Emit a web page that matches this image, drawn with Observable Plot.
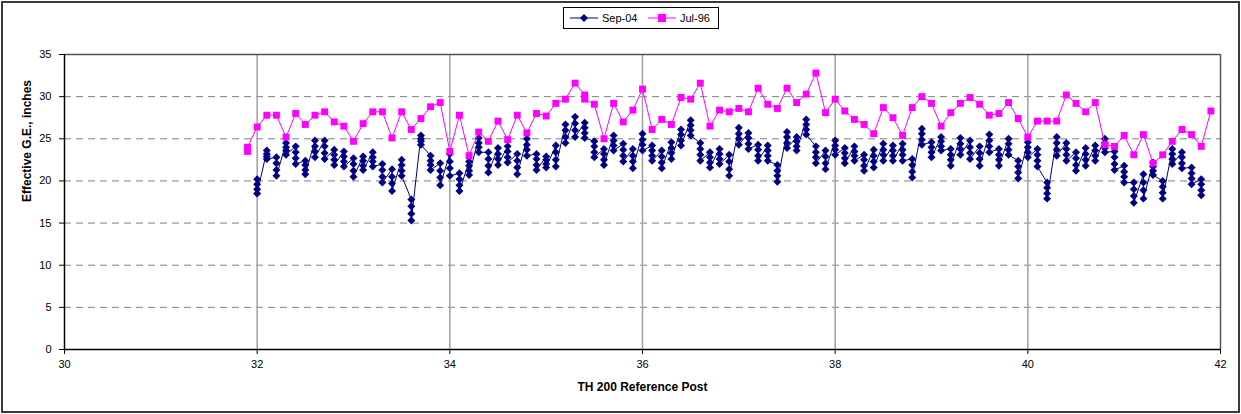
<!DOCTYPE html>
<html>
<head>
<meta charset="utf-8">
<script src="https://cdn.jsdelivr.net/npm/d3@7"></script>
<script src="https://cdn.jsdelivr.net/npm/@observablehq/plot@0.6"></script>
<style>
  body { margin: 0; background: #fff; }
  #wrap { position: relative; width: 1241px; height: 414px; font-family: "Liberation Sans", Arial, sans-serif; overflow: hidden; }
  #outer { position: absolute; left: 1px; top: 1px; width: 1235px; height: 408px; border: 2px solid #3a3a3a; pointer-events: none; z-index: 5; }
  #legend { position: absolute; left: 563px; top: 7px; width: 154px; height: 20px; border: 1px solid #000; background: #fff; font-size: 11px; z-index: 4; }
  #legend .item { position: absolute; top: 0; height: 20px; display: flex; align-items: center; }
  #chart { position: absolute; left: 0; top: 30px; }
</style>
</head>
<body>
<div id="wrap">
  <div id="outer"></div>
  <div id="legend"></div>
  <div id="chart"></div>
</div>
<script>
// ---- data ----
const seriesNames = ["Sep-04", "Jul-96"];
const seriesColors = ["#000080", "#FF00FF"];

const xTicks = [30, 32, 34, 36, 38, 40, 42];
const yTicks = [0, 5, 10, 15, 20, 25, 30, 35];

// Jul-96: one reading per 0.1 post (two at 31.9 and 35.4)
const julPost = [31.9, 31.9, 32.0, 32.1, 32.2, 32.3, 32.4, 32.5, 32.6, 32.7, 32.8, 32.9,
  33.0, 33.1, 33.2, 33.3, 33.4, 33.5, 33.6, 33.7, 33.8, 33.9,
  34.0, 34.1, 34.2, 34.3, 34.4, 34.5, 34.6, 34.7, 34.8, 34.9,
  35.0, 35.1, 35.2, 35.3, 35.4, 35.4, 35.5, 35.6, 35.7, 35.8, 35.9,
  36.0, 36.1, 36.2, 36.3, 36.4, 36.5, 36.6, 36.7, 36.8, 36.9,
  37.0, 37.1, 37.2, 37.3, 37.4, 37.5, 37.6, 37.7, 37.8, 37.9,
  38.0, 38.1, 38.2, 38.3, 38.4, 38.5, 38.6, 38.7, 38.8, 38.9,
  39.0, 39.1, 39.2, 39.3, 39.4, 39.5, 39.6, 39.7, 39.8, 39.9,
  40.0, 40.1, 40.2, 40.3, 40.4, 40.5, 40.6, 40.7, 40.8, 40.9,
  41.0, 41.1, 41.2, 41.3, 41.4, 41.5, 41.6, 41.7, 41.8, 41.9];
const julGE = [23.5, 24.0, 26.4, 27.8, 27.8, 25.2, 28.0, 26.7, 27.8, 28.2, 27.0, 26.5,
  24.7, 26.8, 28.2, 28.2, 25.1, 28.2, 26.1, 27.4, 28.8, 29.3,
  23.5, 27.8, 23.0, 25.8, 24.7, 27.1, 24.9, 27.8, 25.7, 28.0,
  27.7, 29.2, 29.7, 31.6, 30.2, 29.7, 29.1, 25.0, 29.2, 27.0, 28.4,
  30.9, 26.1, 27.3, 26.7, 29.9, 29.7, 31.6, 26.5, 28.4, 28.2,
  28.6, 28.2, 31.0, 29.1, 28.6, 31.0, 29.3, 30.3, 32.8, 28.1,
  29.7, 28.3, 27.3, 26.7, 25.6, 28.7, 27.5, 25.4, 28.7, 30.0,
  29.2, 26.5, 28.1, 29.2, 29.9, 29.1, 27.8, 28.0, 29.3, 27.4,
  25.2, 27.1, 27.1, 27.1, 30.2, 29.2, 28.2, 29.3, 24.3, 24.1,
  25.4, 23.1, 25.5, 22.1, 23.1, 24.7, 26.1, 25.5, 24.1, 28.3];

// Sep-04: several readings stacked at each 0.1 post
const sepPost = [32.0, 32.1, 32.2, 32.3, 32.4, 32.5, 32.6, 32.7, 32.8, 32.9,
  33.0, 33.1, 33.2, 33.3, 33.4, 33.5, 33.6, 33.7, 33.8, 33.9,
  34.0, 34.1, 34.2, 34.3, 34.4, 34.5, 34.6, 34.7, 34.8, 34.9,
  35.0, 35.1, 35.2, 35.3, 35.4, 35.5, 35.6, 35.7, 35.8, 35.9,
  36.0, 36.1, 36.2, 36.3, 36.4, 36.5, 36.6, 36.7, 36.8, 36.9,
  37.0, 37.1, 37.2, 37.3, 37.4, 37.5, 37.6, 37.7, 37.8, 37.9,
  38.0, 38.1, 38.2, 38.3, 38.4, 38.5, 38.6, 38.7, 38.8, 38.9,
  39.0, 39.1, 39.2, 39.3, 39.4, 39.5, 39.6, 39.7, 39.8, 39.9,
  40.0, 40.1, 40.2, 40.3, 40.4, 40.5, 40.6, 40.7, 40.8, 40.9,
  41.0, 41.1, 41.2, 41.3, 41.4, 41.5, 41.6, 41.7, 41.8];
const sepGE = [
  [20.2, 19.6, 19.0, 18.5], [23.6, 23.2, 22.9, 22.6], [22.8, 22.1, 21.3, 20.6], [24.5, 24.0, 23.6, 23.1],
  [24.1, 23.4, 22.7, 22.0], [22.4, 21.9, 21.3, 20.8], [24.8, 24.1, 23.5, 22.8], [24.8, 24.1, 23.3, 22.6],
  [23.7, 23.1, 22.5, 21.9], [23.5, 22.9, 22.3, 21.7], [22.7, 22.0, 21.2, 20.5], [22.9, 22.4, 21.8, 21.3],
  [23.4, 22.8, 22.3, 21.7], [22.0, 21.3, 20.5, 19.8], [21.4, 20.5, 19.7, 18.8], [22.5, 21.9, 21.2, 20.6],
  [17.8, 17.0, 16.1, 15.3], [25.4, 25.0, 24.7, 24.3], [23.0, 22.4, 21.9, 21.3], [22.1, 21.2, 20.4, 19.5],
  [23.2, 22.3, 21.5, 20.6], [20.9, 20.2, 19.5, 18.8], [22.3, 21.8, 21.2, 20.7], [25.1, 24.5, 24.0, 23.4],
  [23.4, 22.6, 21.8, 21.0], [23.9, 23.2, 22.6, 21.9], [24.1, 23.5, 22.8, 22.2], [23.2, 22.4, 21.6, 20.8],
  [25.0, 24.3, 23.7, 23.0], [23.2, 22.6, 21.9, 21.3], [22.9, 22.5, 22.0, 21.6], [24.2, 23.4, 22.5, 21.7],
  [26.7, 26.0, 25.2, 24.5], [27.6, 26.8, 26.0, 25.2], [26.9, 26.3, 25.7, 25.1], [24.7, 24.1, 23.4, 22.8],
  [23.8, 23.2, 22.5, 21.9], [25.4, 24.8, 24.2, 23.6], [24.4, 23.7, 23.0, 22.3], [23.8, 23.0, 22.3, 21.5],
  [25.6, 24.9, 24.3, 23.6], [24.2, 23.6, 23.0, 22.4], [23.6, 22.9, 22.2, 21.5], [24.6, 23.9, 23.3, 22.6],
  [26.1, 25.5, 24.8, 24.2], [27.2, 26.6, 26.0, 25.4], [24.5, 23.8, 23.1, 22.4], [23.4, 22.8, 22.2, 21.6],
  [23.8, 23.2, 22.6, 22.0], [23.1, 22.3, 21.4, 20.6], [26.3, 25.6, 25.0, 24.3], [25.7, 25.1, 24.4, 23.8],
  [24.3, 23.7, 23.0, 22.4], [24.2, 23.6, 23.0, 22.4], [21.9, 21.2, 20.6, 19.9], [25.8, 25.2, 24.5, 23.9],
  [25.2, 24.7, 24.1, 23.6], [27.3, 26.7, 26.1, 25.5], [24.1, 23.4, 22.8, 22.1], [23.6, 22.9, 22.1, 21.4],
  [24.8, 24.2, 23.7, 23.1], [23.9, 23.3, 22.7, 22.1], [24.1, 23.5, 23.0, 22.4], [23.1, 22.5, 21.8, 21.2],
  [23.7, 23.0, 22.3, 21.6], [24.4, 23.7, 23.1, 22.4], [24.2, 23.6, 23.0, 22.4], [24.4, 23.7, 23.1, 22.4],
  [22.6, 21.9, 21.1, 20.4], [26.2, 25.6, 24.9, 24.3], [24.6, 24.0, 23.4, 22.8], [25.2, 24.7, 24.1, 23.6],
  [23.8, 23.1, 22.5, 21.8], [25.1, 24.4, 23.8, 23.1], [24.8, 24.0, 23.3, 22.6], [24.1, 23.3, 22.6, 21.8],
  [25.5, 24.8, 24.1, 23.4], [23.8, 23.1, 22.5, 21.8], [25.0, 24.4, 23.7, 23.1], [22.4, 21.7, 21.0, 20.3],
  [24.6, 24.0, 23.4, 22.8], [23.8, 23.1, 22.4, 21.7], [19.8, 19.2, 18.5, 17.9], [25.2, 24.5, 23.7, 23.0],
  [24.5, 23.8, 23.1, 22.4], [23.4, 22.7, 21.9, 21.2], [23.9, 23.2, 22.5, 21.8], [24.2, 23.6, 23.0, 22.4],
  [25.0, 24.5, 23.9, 23.4], [23.5, 22.8, 22.0, 21.3], [21.8, 21.1, 20.5, 19.8], [19.8, 19.0, 18.2, 17.4],
  [20.8, 19.8, 18.9, 17.9], [22.2, 21.7, 21.2, 20.7], [20.0, 19.3, 18.6, 17.9], [23.8, 23.2, 22.6, 22.0],
  [23.4, 22.8, 22.1, 21.5], [21.6, 20.9, 20.3, 19.6], [20.2, 19.6, 18.9, 18.3]];

// ---- tables built from the arrays ----
const jul = julPost.map((p, i) => ({post: p, ge: julGE[i]}));
const sep = sepPost.flatMap((p, i) => sepGE[i].map(v => ({post: p, ge: v})));

const font = "'Liberation Sans', Arial, sans-serif";

const chart = Plot.plot({
  width: 1241,
  height: 384,
  marginLeft: 64,
  marginRight: 21,
  marginTop: 24,
  marginBottom: 65,
  style: {fontFamily: font, fontSize: "11px", color: "#000", background: "transparent"},
  x: {domain: [30, 42], ticks: 6, tickSize: 5, tickPadding: 6, label: null, line: false},
  y: {domain: [0, 35], ticks: 7, tickSize: 5, tickPadding: 8, label: null, line: false},
  marks: [
    Plot.ruleY(yTicks.filter(t => t > 0 && t < 35), {stroke: "#808080", strokeDasharray: "7,5", strokeWidth: 1}),
    Plot.ruleX(xTicks.filter(t => t > 30 && t < 42), {stroke: "#a0a0a0", strokeWidth: 1.5}),
    Plot.ruleY([35], {stroke: "#555", strokeWidth: 1.5}),
    Plot.ruleX([42], {stroke: "#555", strokeWidth: 1.5}),
    Plot.ruleY([0], {stroke: "#000", strokeWidth: 1.5}),
    Plot.ruleX([30], {stroke: "#000", strokeWidth: 1.5}),
    Plot.line(sep, {x: "post", y: "ge", stroke: seriesColors[0], strokeWidth: 1}),
    Plot.dot(sep, {x: "post", y: "ge", symbol: "diamond2", r: 3.6, fill: seriesColors[0], stroke: "none"}),
    Plot.line(jul, {x: "post", y: "ge", stroke: seriesColors[1], strokeWidth: 1}),
    Plot.dot(jul, {x: "post", y: "ge", symbol: "square", r: 3.9, fill: seriesColors[1], stroke: "none"}),
    Plot.text(["Effective G.E., inches"], {frameAnchor: "left", dx: -37, rotate: -90, fontWeight: "bold", fontSize: 12, fill: "#000"}),
    Plot.text(["TH 200 Reference Post"], {frameAnchor: "bottom", dy: 41, fontWeight: "bold", fontSize: 12, fill: "#000"})
  ]
});
document.getElementById("chart").appendChild(chart);

// ---- legend ----
const legend = document.getElementById("legend");
const items = [
  {name: seriesNames[0], color: seriesColors[0], shape: "diamond", left: 6},
  {name: seriesNames[1], color: seriesColors[1], shape: "square", left: 84}
];
for (const it of items) {
  const div = document.createElement("div");
  div.className = "item";
  div.style.left = it.left + "px";
  const marker = it.shape === "diamond"
    ? `<path d="M14,6 L18,10 L14,14 L10,10 Z" fill="${it.color}"/>`
    : `<rect x="10" y="6" width="8" height="8" fill="${it.color}"/>`;
  div.innerHTML = `<svg width="30" height="20" style="display:block"><line x1="0" x2="28" y1="10" y2="10" stroke="${it.color}" stroke-width="1"/>${marker}</svg><span style="margin-left:2px">${it.name}</span>`;
  legend.appendChild(div);
}
</script>
</body>
</html>
